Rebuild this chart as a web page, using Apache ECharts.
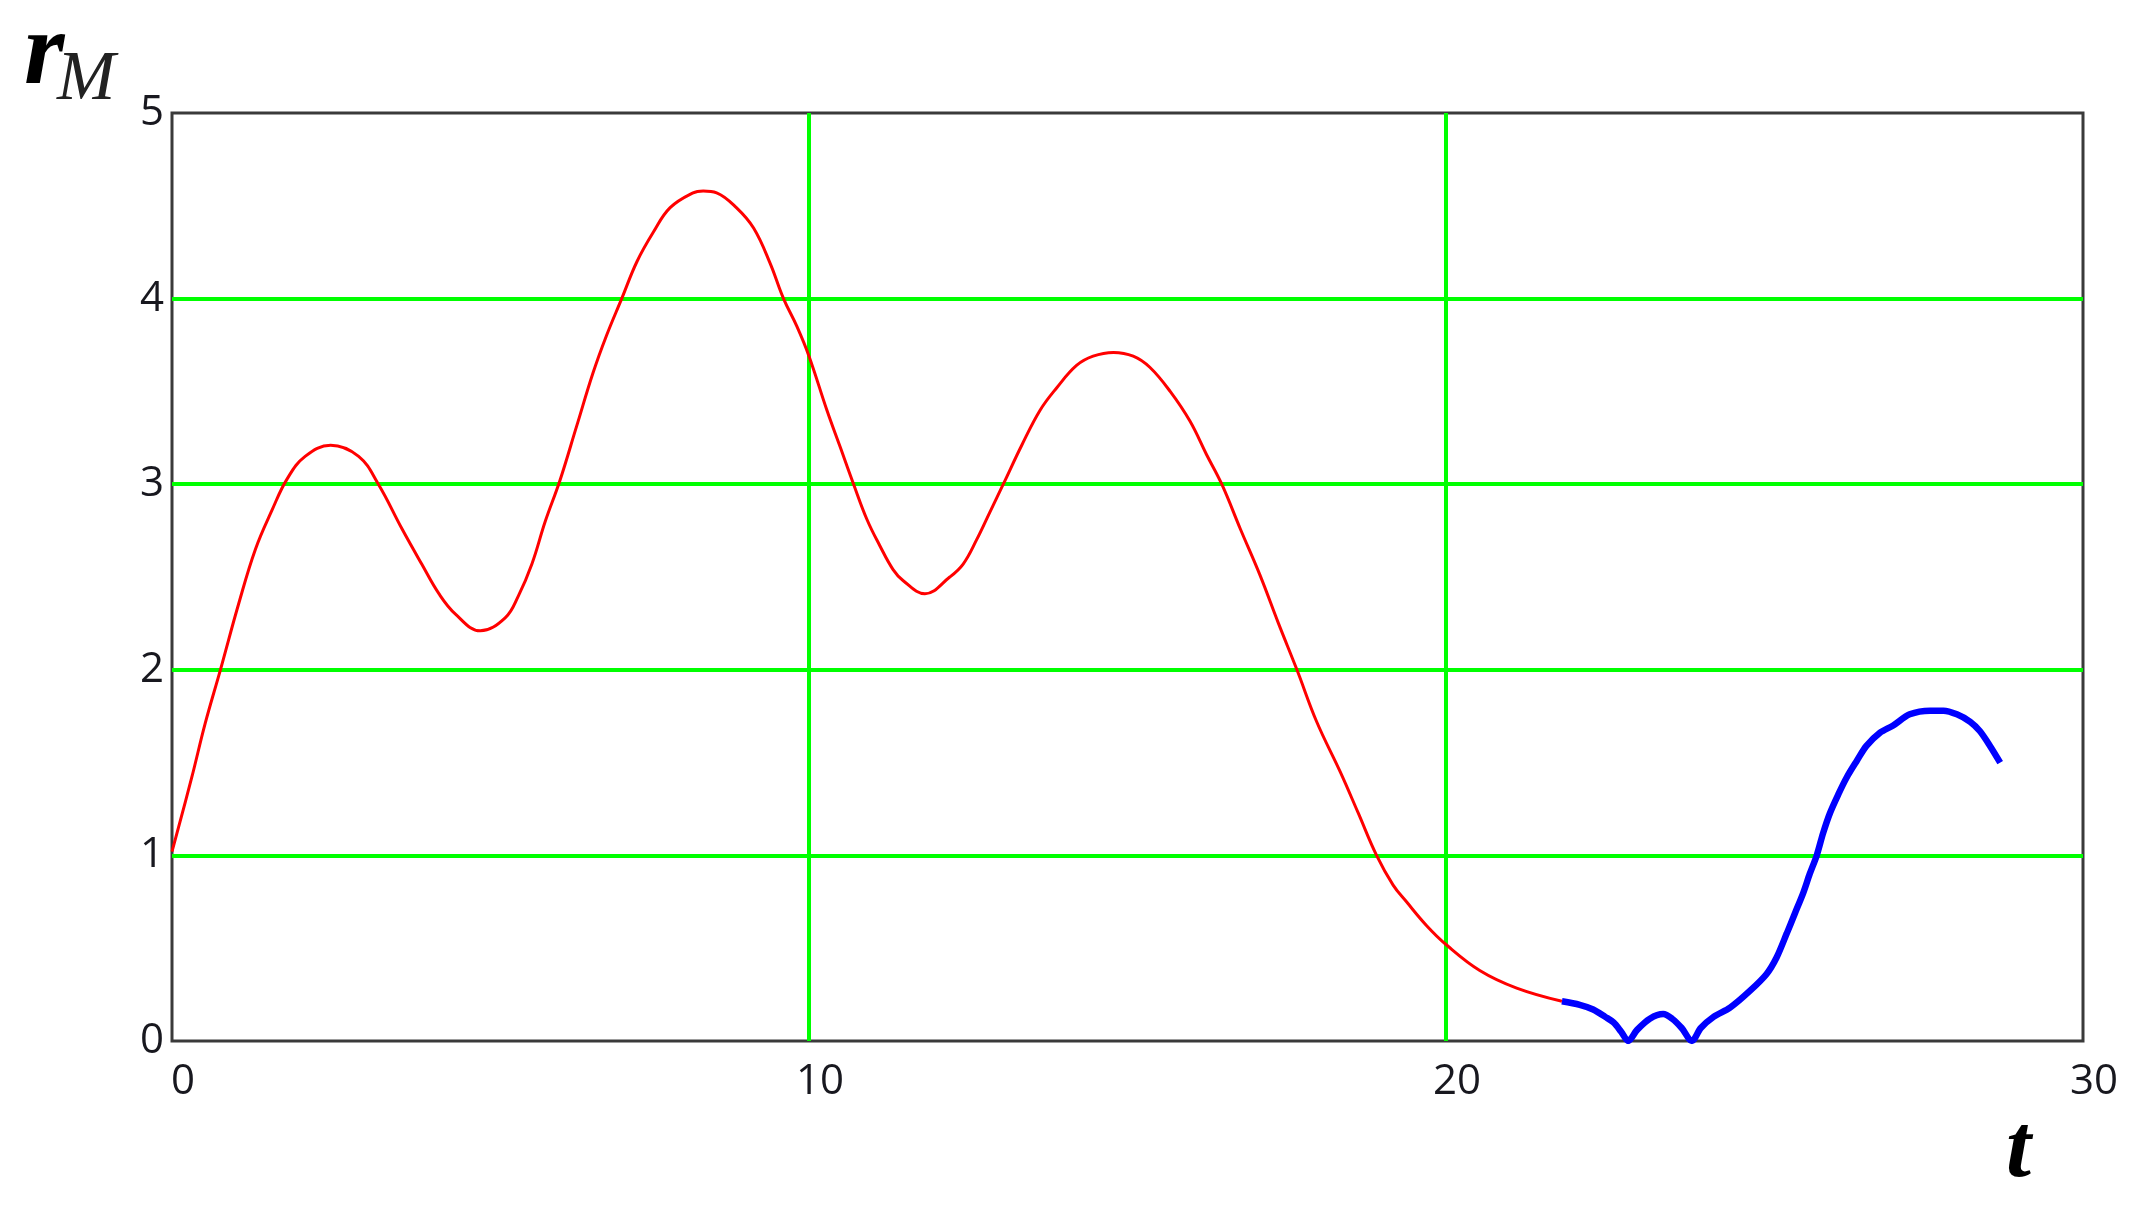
<!DOCTYPE html>
<html>
<head>
<meta charset="utf-8">
<script src="https://cdn.jsdelivr.net/npm/echarts@6/dist/echarts.min.js"></script>
<style>
html,body{margin:0;padding:0;background:#fff;}
#chart{width:2145px;height:1205px;}
</style>
</head>
<body>
<div id="chart"></div>
<script>
// ---- data ----
const xTicks = [0, 10, 20, 30];
const yTicks = [0, 1, 2, 3, 4, 5];

const redT = [0, 0.31, 0.52, 0.76, 1.05, 1.31, 1.57, 1.81, 2.09, 2.49, 2.93, 3.24, 3.61, 3.92, 4.19, 4.45, 4.84, 5.23, 5.44, 5.65, 5.86, 6.09, 6.35, 6.61, 6.82, 7.06, 7.30, 7.56, 7.82, 8.18, 8.34, 8.55, 8.86, 9.13, 9.39, 9.60, 9.81, 10.0, 10.28, 10.49, 10.70, 10.91, 11.11, 11.32, 11.48, 11.82, 12.21, 12.42, 12.63, 12.84, 13.05, 13.34, 13.63, 13.89, 14.20, 14.46, 14.78, 15.09, 15.35, 15.67, 15.98, 16.24, 16.48, 16.77, 17.08, 17.37, 17.66, 17.97, 18.34, 18.62, 18.91, 19.17, 19.38, 19.70, 20.0, 20.53, 21.11, 21.82];
const redR = [1.02, 1.42, 1.71, 2.0, 2.36, 2.65, 2.86, 3.03, 3.15, 3.21, 3.15, 3.0, 2.76, 2.57, 2.41, 2.30, 2.21, 2.28, 2.40, 2.57, 2.80, 3.02, 3.31, 3.60, 3.80, 4.0, 4.20, 4.36, 4.49, 4.57, 4.58, 4.57, 4.49, 4.38, 4.19, 4.0, 3.85, 3.69, 3.40, 3.20, 3.0, 2.81, 2.67, 2.54, 2.48, 2.41, 2.50, 2.57, 2.70, 2.85, 3.0, 3.21, 3.40, 3.52, 3.64, 3.69, 3.71, 3.69, 3.63, 3.50, 3.34, 3.16, 3.0, 2.76, 2.51, 2.25, 2.0, 1.72, 1.45, 1.23, 1.0, 0.84, 0.75, 0.62, 0.52, 0.38, 0.285, 0.214];

const blueT = [21.82, 22.1, 22.31, 22.5, 22.63, 22.75, 22.86, 23.0, 23.2, 23.41, 23.55, 23.7, 23.86, 24.0, 24.2, 24.46, 24.77, 25.03, 25.19, 25.35, 25.48, 25.61, 25.71, 25.82, 25.92, 26.03, 26.16, 26.29, 26.45, 26.60, 26.81, 27.02, 27.28, 27.60, 27.81, 28.02, 28.23, 28.38, 28.54, 28.70];
const blueR = [0.214, 0.195, 0.17, 0.13, 0.10, 0.05, 0.0, 0.06, 0.12, 0.145, 0.12, 0.07, 0.0, 0.07, 0.13, 0.18, 0.27, 0.36, 0.45, 0.58, 0.69, 0.80, 0.90, 1.0, 1.12, 1.23, 1.33, 1.42, 1.51, 1.59, 1.66, 1.70, 1.76, 1.78, 1.78, 1.76, 1.72, 1.67, 1.59, 1.50];

const yName = 'r';
const ySub = 'M';
const xName = 't';

// ---- chart ----
const zip = (a, b) => a.map((v, i) => [v, b[i]]);
const chart = echarts.init(document.getElementById('chart'), null, {renderer: 'canvas'});
const labelFont = '"Open Sans", "Noto Sans", sans-serif';

chart.setOption({
  animation: false,
  backgroundColor: '#ffffff',
  grid: {
    left: 172, top: 113, right: 62, bottom: 164,
    show: true, borderColor: '#3a3a3a', borderWidth: 3, backgroundColor: 'transparent'
  },
  xAxis: {
    type: 'value', min: xTicks[0], max: xTicks[xTicks.length - 1], interval: xTicks[1] - xTicks[0],
    axisLine: {show: false}, axisTick: {show: false},
    axisLabel: {
      margin: 20, fontSize: 42, fontFamily: labelFont, color: '#18181f',
      padding: [0, 0, 0, 22], showMinLabel: true, showMaxLabel: true
    },
    splitLine: {show: true, showMinLine: false, showMaxLine: false, lineStyle: {color: '#00ff00', width: 4}}
  },
  yAxis: {
    type: 'value', min: yTicks[0], max: yTicks[yTicks.length - 1], interval: yTicks[1] - yTicks[0],
    axisLine: {show: false}, axisTick: {show: false},
    axisLabel: {
      margin: 8, fontSize: 42, fontFamily: labelFont, color: '#18181f',
      showMinLabel: true, showMaxLabel: true
    },
    splitLine: {show: true, showMinLine: false, showMaxLine: false, lineStyle: {color: '#00ff00', width: 4}}
  },
  graphic: [
    {type: 'text', left: 24, top: 4, z: 10,
     style: {text: yName, font: 'bold italic 104px "Liberation Serif", serif', fill: '#000'}},
    {type: 'text', left: 57, top: 46, z: 10,
     style: {text: ySub, font: 'italic 70px "Liberation Serif", serif', fill: '#222'}},
    {type: 'text', left: 2006, top: 1108, z: 10,
     style: {text: xName, font: 'bold italic 90px "Liberation Serif", serif', fill: '#000'}}
  ],
  series: [
    {
      type: 'line', data: zip(redT, redR), showSymbol: false, smooth: 0.4,
      lineStyle: {color: '#ff0000', width: 3}, z: 3
    },
    {
      type: 'line', data: zip(blueT, blueR), showSymbol: false, smooth: 0.3,
      lineStyle: {color: '#0000ff', width: 6.5}, z: 4
    }
  ]
});
</script>
</body>
</html>
